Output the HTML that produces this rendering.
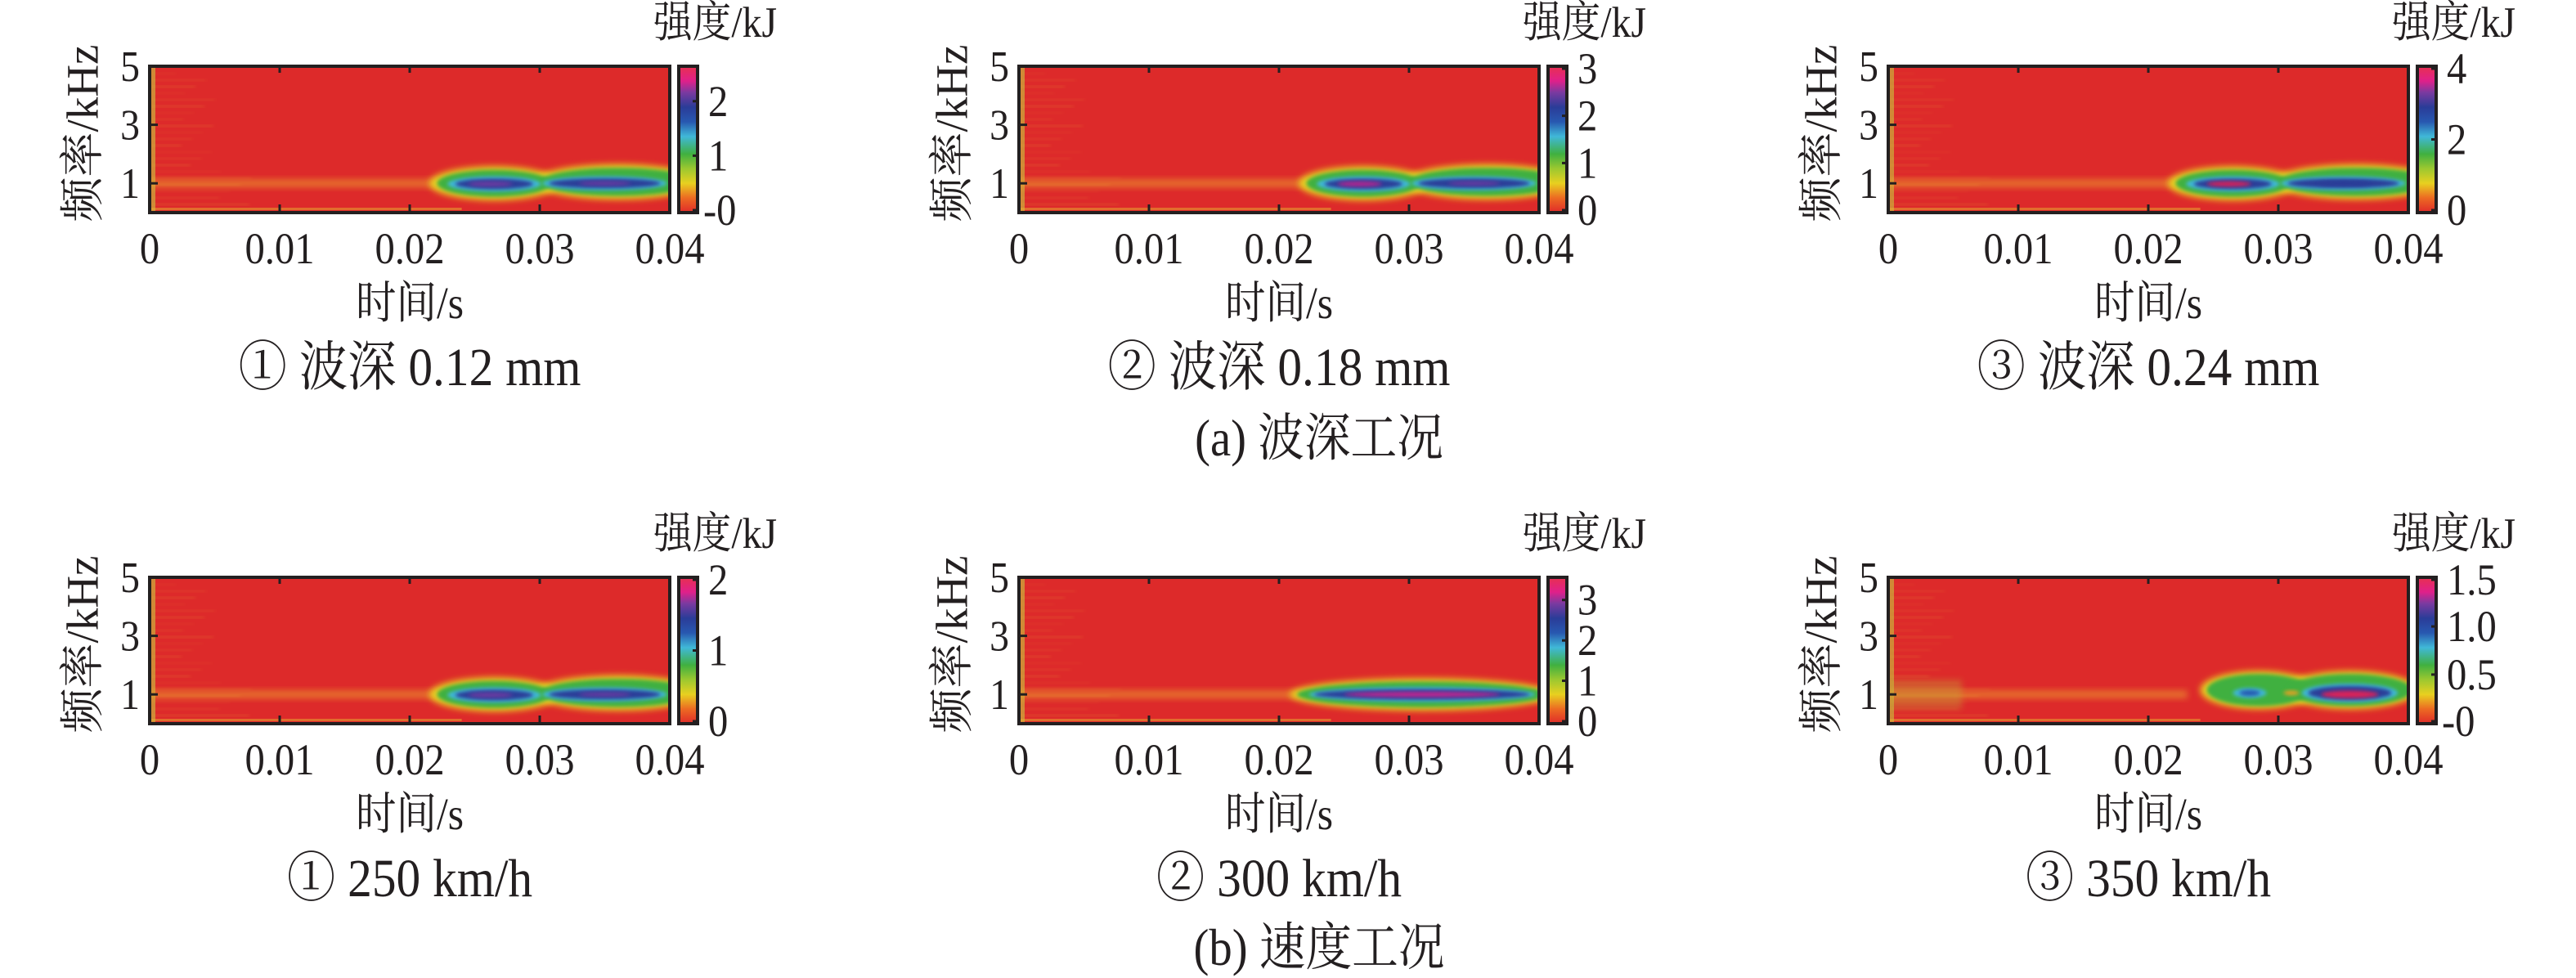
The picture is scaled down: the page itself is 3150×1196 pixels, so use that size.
<!DOCTYPE html>
<html><head><meta charset="utf-8">
<style>
html,body{margin:0;padding:0;background:#fff;}
svg{display:block;}
text{font-family:"Liberation Serif","Noto Serif CJK SC",serif;fill:#231f20;}
</style></head>
<body>
<svg id="s" width="3150" height="1196" viewBox="0 0 3150 1196" xmlns="http://www.w3.org/2000/svg">
<defs>
<linearGradient id="cb" x1="0" y1="1" x2="0" y2="0">
<stop offset="0" stop-color="#e02a2a"/>
<stop offset="0.1" stop-color="#ec6a22"/>
<stop offset="0.2" stop-color="#e8d020"/>
<stop offset="0.3" stop-color="#9cc830"/>
<stop offset="0.4" stop-color="#40b040"/>
<stop offset="0.52" stop-color="#40b8d8"/>
<stop offset="0.62" stop-color="#2858b0"/>
<stop offset="0.72" stop-color="#2a3c98"/>
<stop offset="0.82" stop-color="#7a3aa0"/>
<stop offset="0.9" stop-color="#e0208a"/>
<stop offset="1" stop-color="#e83050"/>
</linearGradient>
<filter id="b1" x="-50%" y="-50%" width="200%" height="200%"><feGaussianBlur stdDeviation="4"/></filter>
<filter id="b2" x="-50%" y="-50%" width="200%" height="200%"><feGaussianBlur stdDeviation="2.5"/></filter>
<filter id="b3" x="-50%" y="-50%" width="200%" height="200%"><feGaussianBlur stdDeviation="6"/></filter>
</defs>
<g id="g"></g>
</svg>
<script>
var out='';
var W=636,H=179;
var panels=[
 {c:0,r:0,sub:'① 波深 0.12 mm',cb:[['2',.77],['1',.385],['-0',0]],type:'a'},
 {c:1,r:0,sub:'② 波深 0.18 mm',cb:[['3',1],['2',.667],['1',.333],['0',0]],type:'a2'},
 {c:2,r:0,sub:'③ 波深 0.24 mm',cb:[['4',1],['2',.5],['0',0]],type:'a3'},
 {c:0,r:1,sub:'① 250 km/h',cb:[['2',1],['1',.5],['0',0]],type:'a'},
 {c:1,r:1,sub:'② 300 km/h',cb:[['3',.857],['2',.571],['1',.286],['0',0]],type:'b2'},
 {c:2,r:1,sub:'③ 350 km/h',cb:[['1.5',1],['1.0',.67],['0.5',.33],['-0',0]],type:'b3'}
];
function X(x0,t){return x0+t/0.04*W;}
function Y(y0,f){return y0+H-f/5*H;}
function ell(x0,y0,t,f,rt,rf,col,flt){
 return '<ellipse cx="'+X(x0,t)+'" cy="'+Y(y0,f)+'" rx="'+(rt/0.04*W)+'" ry="'+(rf/5*H)+'" fill="'+col+'" filter="url(#'+flt+')"/>';
}
function T(x,y,s,anchor,txt){
 return '<text transform="translate('+x+','+y+') scale(0.9,1)" font-size="'+s+'" text-anchor="'+anchor+'">'+txt+'</text>';
}
panels.forEach(function(p){
 var x0=183+p.c*1063, y0=81+p.r*625;
 var id='cp'+p.c+p.r;
 out+='<clipPath id="'+id+'"><rect x="'+x0+'" y="'+y0+'" width="'+W+'" height="'+H+'"/></clipPath>';
 out+='<g clip-path="url(#'+id+')">';
 out+='<rect x="'+x0+'" y="'+y0+'" width="'+W+'" height="'+H+'" fill="#dd2a2a"/>';
 for(var i=0;i<22;i++){
  var fy=y0+8+i*8;
  out+='<rect x="'+(x0+2)+'" y="'+fy+'" width="'+(30+(i*37%50)+(i>14?50:0))+'" height="2" fill="#e88a30" opacity="'+(0.15+(i%3)*0.12)+'" filter="url(#b2)"/>';
 }
 out+='<rect x="'+(x0+2)+'" y="'+y0+'" width="5" height="'+H+'" fill="#c8c840" opacity="0.6"/>';
 out+='<rect x="'+x0+'" y="'+(Y(y0,1)-5)+'" width="'+(0.023/0.04*W)+'" height="10" fill="#eeb030" opacity="0.5" filter="url(#b1)"/>';
 out+='<rect x="'+x0+'" y="'+(y0+H-6)+'" width="'+(W*0.6)+'" height="3" fill="#e8b030" opacity="0.5"/>';
 if(p.type=='b3'){
  out+='<rect x="'+x0+'" y="'+(Y(y0,1.5))+'" width="90" height="'+(1.0/5*H)+'" fill="#c0b038" opacity="0.35" filter="url(#b1)"/>';
 }
 var t=p.type;
 if(t=='a'||t=='a2'||t=='a3'){
  out+=ell(x0,y0,0.0265,1.0,0.005,0.58,'#e8d020','b1');
  out+=ell(x0,y0,0.036,1.05,0.0065,0.6,'#e8d020','b1');
  out+=ell(x0,y0,0.0265,1.0,0.0044,0.46,'#40b040','b2');
  out+=ell(x0,y0,0.036,1.05,0.006,0.48,'#40b040','b2');
  out+=ell(x0,y0,0.0265,0.98,0.0036,0.26,'#40b8d8','b2');
  out+=ell(x0,y0,0.035,1.0,0.0048,0.24,'#40b8d8','b2');
  out+=ell(x0,y0,0.0265,0.98,0.003,0.18,'#2a3c98','b2');
  out+=ell(x0,y0,0.035,1.0,0.0043,0.17,'#2a3c98','b2');
  var mc=t=='a3'?'#d8205a':(t=='a2'?'#b02890':'#6a3aa0');
  out+=ell(x0,y0,0.0262,0.98,0.0017,0.09,mc,'b2');
  out+=ell(x0,y0,0.035,1.0,0.002,0.07,t=='a3'?'#2a3c98':'#6a3aa0','b2');
 } else if(t=='b2'){
  out+=ell(x0,y0,0.031,1.0,0.0102,0.55,'#e8d020','b1');
  out+=ell(x0,y0,0.031,1.0,0.0096,0.44,'#40b040','b2');
  out+=ell(x0,y0,0.031,1.0,0.0087,0.25,'#40b8d8','b2');
  out+=ell(x0,y0,0.031,1.0,0.0083,0.18,'#2a3c98','b2');
  out+=ell(x0,y0,0.031,1.0,0.006,0.09,'#c02890','b2');
 } else {
  out+=ell(x0,y0,0.0285,1.15,0.0045,0.65,'#e8d020','b1');
  out+=ell(x0,y0,0.0355,1.15,0.0052,0.65,'#e8d020','b1');
  out+=ell(x0,y0,0.0285,1.15,0.004,0.55,'#40b040','b2');
  out+=ell(x0,y0,0.0355,1.15,0.0048,0.55,'#40b040','b2');
  out+=ell(x0,y0,0.0278,1.05,0.0013,0.17,'#40b8d8','b2');
  out+=ell(x0,y0,0.0278,1.05,0.0008,0.1,'#2858b0','b2');
  out+=ell(x0,y0,0.031,1.05,0.0006,0.08,'#e8a020','b2');
  out+=ell(x0,y0,0.0355,1.05,0.0037,0.32,'#40b8d8','b2');
  out+=ell(x0,y0,0.0355,1.05,0.0032,0.24,'#2a3c98','b2');
  out+=ell(x0,y0,0.0355,1.0,0.0022,0.13,'#d8205a','b2');
 }
 out+='</g>';
 out+='<rect x="'+x0+'" y="'+y0+'" width="'+W+'" height="'+H+'" fill="none" stroke="#231f20" stroke-width="4"/>';
 for(var k=1;k<4;k++){var tx=x0+k*W/4;
  out+='<line x1="'+tx+'" y1="'+(y0+H)+'" x2="'+tx+'" y2="'+(y0+H-10)+'" stroke="#231f20" stroke-width="3"/>';
  out+='<line x1="'+tx+'" y1="'+y0+'" x2="'+tx+'" y2="'+(y0+8)+'" stroke="#231f20" stroke-width="3"/>';}
 [1,3].forEach(function(f){var ty=Y(y0,f);
  out+='<line x1="'+x0+'" y1="'+ty+'" x2="'+(x0+10)+'" y2="'+ty+'" stroke="#231f20" stroke-width="3"/>';});
 [['5',5],['3',3],['1',1]].forEach(function(l){
  out+=T(x0-12,Y(y0,l[1])+18,53,'end',l[0]);});
 out+='<text transform="translate('+(x0-82)+','+(y0+82)+') rotate(-90)" font-size="55" text-anchor="middle" dominant-baseline="central">频率/kHz</text>';
 ['0','0.01','0.02','0.03','0.04'].forEach(function(l,k){
  out+=T(x0+k*W/4,y0+H+62,54,'middle',l);});
 out+=T(x0+W/2,y0+H+129,55,'middle','时间/s');
 out+=T(x0+W/2,y0+H+211,66,'middle',p.sub);
 var cx=x0+647;
 out+='<rect x="'+cx+'" y="'+y0+'" width="23" height="'+H+'" fill="url(#cb)" stroke="#231f20" stroke-width="4"/>';
 p.cb.forEach(function(l){var ty=y0+H-l[1]*(H-6)-3;
  out+='<line x1="'+(cx+17)+'" y1="'+ty+'" x2="'+(cx+23)+'" y2="'+ty+'" stroke="#231f20" stroke-width="3"/>';
  out+=T(cx+(l[0].charAt(0)=='-'?30:36),ty+18,54,'start',l[0]);});
 out+=T(x0+767,y0-36,53,'end','强度/kJ');
});
out+=T(1613,557,63,'middle','(a) 波深工况');
out+=T(1613,1180,63,'middle','(b) 速度工况');
document.getElementById('g').innerHTML=out;
</script>
</body></html>
